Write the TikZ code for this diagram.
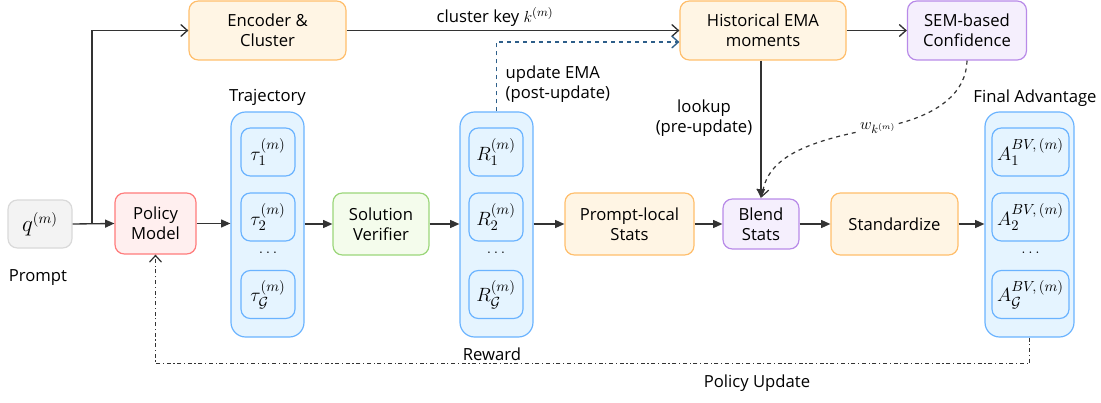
\documentclass[tikz,border=0pt]{standalone}
\usepackage{fontspec}
\setmainfont{Open Sans}
\usetikzlibrary{arrows.meta,calc}
\definecolor{lineC}{HTML}{333333}
\definecolor{orB}{HTML}{FFBE6B}\definecolor{orF}{HTML}{FFF5E4}
\definecolor{puB}{HTML}{B88AE8}\definecolor{puF}{HTML}{F5EFFD}
\definecolor{blB}{HTML}{6AB3FF}\definecolor{blF}{HTML}{E5F4FF}
\definecolor{reB}{HTML}{FF7B7B}\definecolor{reF}{HTML}{FFEFEF}
\definecolor{grB}{HTML}{9BD67A}\definecolor{grF}{HTML}{F4FCEC}
\definecolor{gyB}{HTML}{D9D9D9}\definecolor{gyF}{HTML}{F3F3F3}
\definecolor{emaC}{HTML}{2E5F8A}
\tikzset{
  box/.style={rectangle, rounded corners=7pt, line width=0.9pt, align=center, inner sep=2pt,
    font=\fontsize{12.5}{15}\selectfont},
  orbox/.style={box, draw=orB, fill=orF},
  pubox/.style={box, draw=puB, fill=puF},
  blbox/.style={box, draw=blB, fill=blF},
  rebox/.style={box, draw=reB, fill=reF},
  grbox/.style={box, draw=grB, fill=grF},
  gybox/.style={box, draw=gyB, fill=gyF},
  cont/.style={blbox, rounded corners=11pt, minimum width=54.75pt, minimum height=168.75pt},
  item/.style={blbox, minimum width=40.5pt, minimum height=36pt, font=\fontsize{15}{17}\selectfont},
  aitem/.style={item, minimum width=57.75pt},
  lbl/.style={font=\fontsize{12.5}{15}\selectfont, align=center, inner sep=1pt},
  flow/.style={draw=lineC, line width=1pt, -{Triangle[length=7pt,width=6pt]}},
  oflow/.style={draw=lineC, line width=1pt, -{Straight Barb[length=5pt,width=9pt]}},
}
\begin{document}
\begin{tikzpicture}[x=0.75pt,y=-0.75pt]
\useasboundingbox (0,0) rectangle (1101,403);
% top row
\node[orbox, minimum width=117.75pt, minimum height=44.25pt] (enc) at (267.5,30.5) {Encoder \&\\Cluster};
\node[orbox, minimum width=124.5pt, minimum height=44.25pt] (hist) at (763,30.5) {Historical EMA\\moments};
\node[pubox, minimum width=89.25pt, minimum height=44.25pt] (sem) at (967,30.5) {SEM-based\\Confidence};
% main row
\node[gybox, minimum width=48pt, minimum height=36pt, font=\fontsize{16}{18}\selectfont] (q) at (40,224) {$q^{(m)}$};
\node[lbl] (prompt) at (38,278) {Prompt};
\node[rebox, minimum width=60.75pt, minimum height=45.75pt] (policy) at (155.5,223.5) {Policy\\Model};
% trajectory
\node[cont] (traj) at (267.5,224.5) {};
\node[lbl] (trajl) at (267.5,97) {Trajectory};
\node[item] (t1) at (268,152) {$\tau_1^{(m)}$};
\node[item] (t2) at (268,217) {$\tau_2^{(m)}$};
\node[lbl] (tdots) at (268,253) {$\ldots$};
\node[item] (tg) at (268,294.5) {$\tau_{\mathcal{G}}^{(m)}$};
\node[grbox, minimum width=72pt, minimum height=46.5pt] (ver) at (381,224) {Solution\\Verifier};
% reward
\node[cont] (rew) at (496.5,224.5) {};
\node[lbl] (rewl) at (492,354) {Reward};
\node[item] (r1) at (496,152) {$R_1^{(m)}$};
\node[item] (r2) at (496,217) {$R_2^{(m)}$};
\node[lbl] (rdots) at (496,253) {$\ldots$};
\node[item] (rg) at (496,294.5) {$R_{\mathcal{G}}^{(m)}$};
\node[orbox, minimum width=96.75pt, minimum height=46.5pt] (pls) at (629.5,224) {Prompt-local\\Stats};
\node[pubox, minimum width=57pt, minimum height=37.5pt] (blend) at (761,224) {Blend\\Stats};
\node[orbox, minimum width=95.25pt, minimum height=46.5pt] (std) at (894.5,224) {Standardize};
% final advantage
\node[cont, minimum width=66.75pt] (fin) at (1029.5,224.5) {};
\node[lbl] (finl) at (1035,98) {Final Advantage};
\node[aitem] (a1) at (1030.5,152) {$A_1^{BV,\,(m)}$};
\node[aitem] (a2) at (1030.5,217) {$A_2^{BV,\,(m)}$};
\node[lbl] (adots) at (1030.5,253) {$\ldots$};
\node[aitem] (ag) at (1030.5,294.5) {$A_{\mathcal{G}}^{BV,\,(m)}$};
% flow arrows
\coordinate (j) at (92,224);
\draw[flow] (q.east) -- (policy.west);
\draw[oflow] (j) |- (enc.west);
\draw[flow] (policy.east) -- (policy.east -| traj.west);
\draw[flow] (traj.east |- ver.west) -- (ver.west);
\draw[flow] (ver.east) -- (ver.east -| rew.west);
\draw[flow] (rew.east |- pls.west) -- (pls.west);
\draw[flow] (pls.east) -- (blend.west);
\draw[flow] (blend.east) -- (std.west);
\draw[flow] (std.east) -- (std.east -| fin.west);
% top arrows
\draw[oflow] (enc.east) -- (hist.west);
\node[lbl] (ck) at (495,17) {cluster key $k^{(m)}$};
\draw[oflow] (hist.east) -- (sem.west);
\draw[oflow, draw=emaC, dashed] (rew.north) |- ($(hist.west)+(0,11.5)$);
\node[lbl, align=left, anchor=north west] (ema) at (504,64) {update EMA\\(post-update)};
\draw[flow] (blend.north |- hist.south) -- (blend.north);
\node[lbl] (look) at (704,118) {lookup\\(pre-update)};
\draw[draw=lineC, line width=0.9pt, dashed, -{Straight Barb[length=5pt,width=9pt]}]
  (sem.south) .. controls (966,100) and (925,120) .. (878,128)
  .. controls (800,142) and (766,160) .. (762,197);
\node[lbl, fill=white, inner sep=1pt, font=\fontsize{13}{15}\selectfont] (w) at (878,128) {$w_{k^{(m)}}$};
% policy update
\draw[draw=lineC, line width=0.9pt, dash dot, -{Straight Barb[length=5pt,width=9pt]}]
  (fin.south) -- ++(0,26) -| (policy.south);
\node[lbl] (pu) at (757,383) {Policy Update};
\end{tikzpicture}
\end{document}
